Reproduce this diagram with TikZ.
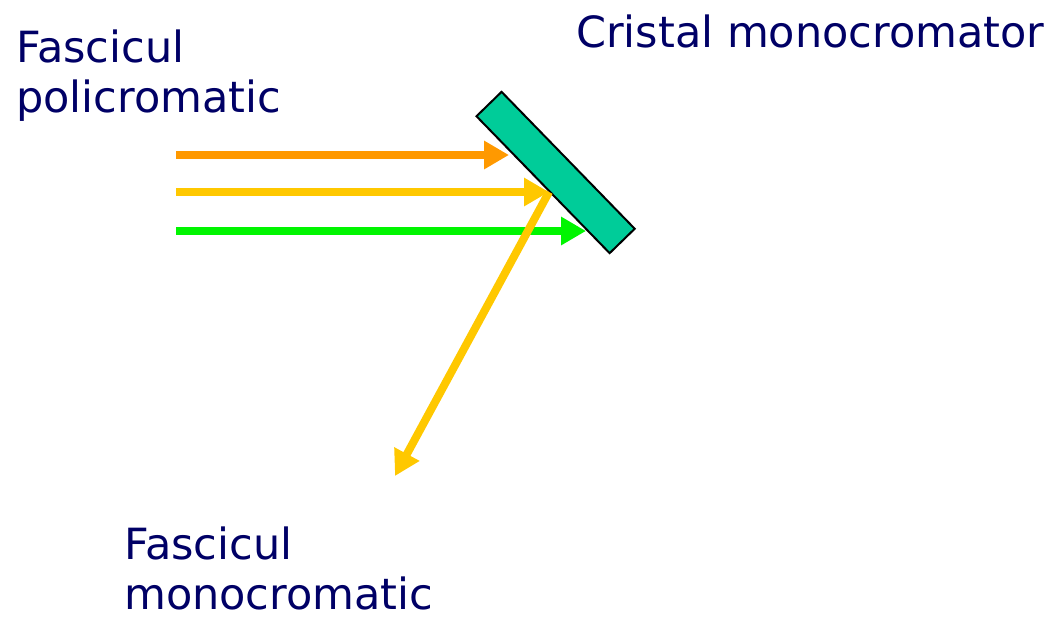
\documentclass[tikz,border=0pt]{standalone}
\usepackage{fontspec}
\setmainfont{DejaVu Sans}
\definecolor{bleumarin}{RGB}{0, 0, 102}
\definecolor{verdecristal}{RGB}{0, 204, 153}
\definecolor{portocaliu}{RGB}{255, 153, 0}
\definecolor{galben}{RGB}{255, 200, 0}
\definecolor{verde}{RGB}{0, 245, 0}
\usetikzlibrary{arrows.meta, positioning, calc}

\begin{document}
\begin{tikzpicture}[x=1pt, y=-1pt,
    every node/.style={font=\fontsize{43}{50}\selectfont, text=bleumarin},
    raza/.style={line width=8pt, -{Triangle[length=25pt, width=27pt]}}]
      \useasboundingbox (0,0) rectangle (1059,621);

      % cristalul monocromator
      \node[draw=black, line width=2pt, fill=verdecristal,
            minimum width=191pt, minimum height=35pt, inner sep=0pt,
            rotate=-45.8] (cristal) at (555.6,172.5) {};

      % capetele razelor
      \coordinate (sursa1) at (176,155);
      \coordinate (sursa2) at (176,192);
      \coordinate (sursa3) at (176,231);
      \coordinate (lovire1) at (509,155);
      \coordinate (lovire2) at (549,192);
      \coordinate (lovire3) at (586,231);
      \coordinate (reflexie) at (395,476);

      \draw[raza, portocaliu] (sursa1) -- (lovire1);
      \draw[raza, galben]     (sursa2) -- (lovire2);
      \draw[raza, verde]      (sursa3) -- (lovire3);
      \draw[raza, galben]     (lovire2) -- (reflexie);

      \node[anchor=base west, align=left, inner sep=0pt] (policrom) at (16,112)
            {Fascicul\\policromatic};
      \node[anchor=base west, inner sep=0pt] (etcristal) at (576,47)
            {Cristal monocromator};
      \node[anchor=base west, align=left, inner sep=0pt] (monocrom) at (124,609)
            {Fascicul\\monocromatic};
    \end{tikzpicture}
\end{document}
